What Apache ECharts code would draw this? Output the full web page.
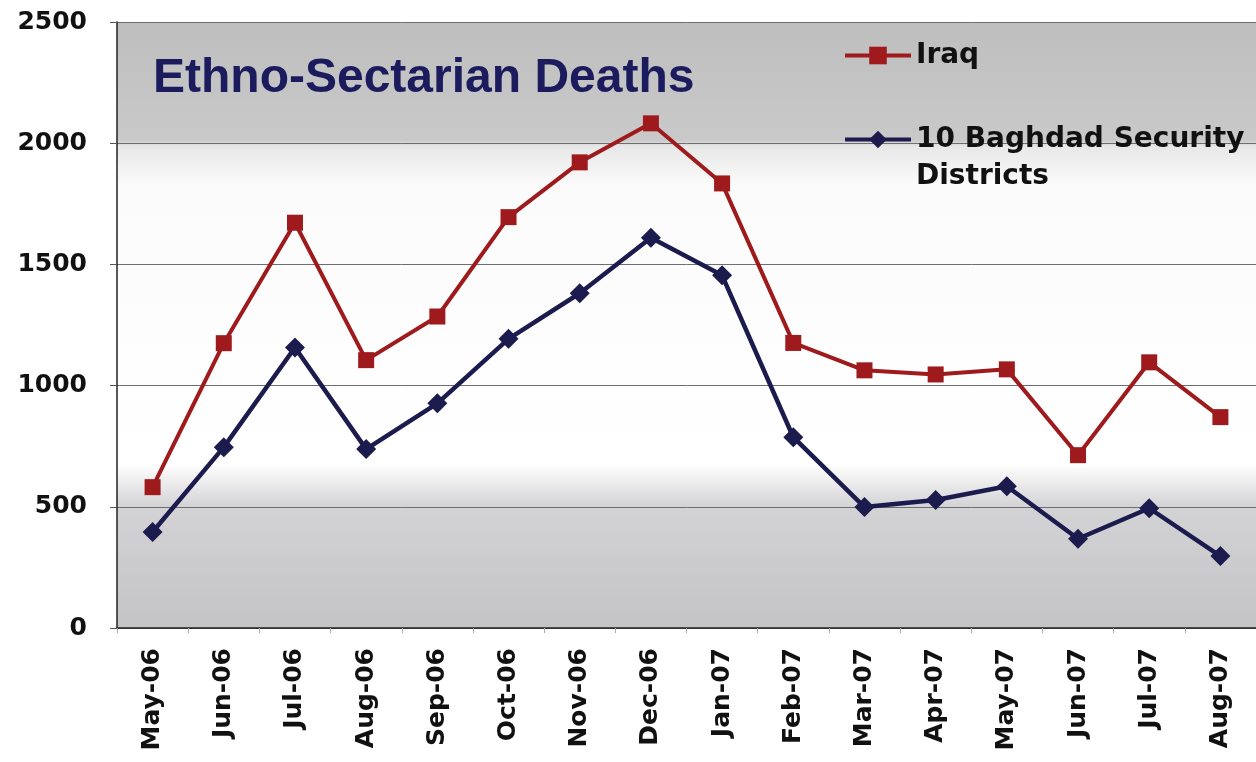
<!DOCTYPE html>
<html>
<head>
<meta charset="utf-8">
<script src="https://cdn.jsdelivr.net/npm/echarts@6/dist/echarts.min.js"></script>
<style>
html,body{margin:0;padding:0;background:#fff;}
#c{width:1256px;height:762px;}
</style>
</head>
<body>
<div id="c"></div>
<script>
const months = ['May-06','Jun-06','Jul-06','Aug-06','Sep-06','Oct-06','Nov-06','Dec-06','Jan-07','Feb-07','Mar-07','Apr-07','May-07','Jun-07','Jul-07','Aug-07'];
const iraq = [581,1175,1672,1105,1285,1695,1921,2082,1834,1176,1063,1046,1067,713,1096,870];
const baghdad = [396,746,1157,738,927,1193,1381,1610,1455,787,499,528,585,368,494,297];
const yTicks = [0,500,1000,1500,2000,2500];
const titleText = 'Ethno-Sectarian Deaths';
const seriesNames = ['Iraq','10 Baghdad Security\nDistricts'];

const chart = echarts.init(document.getElementById('c'));
chart.setOption({
  animation:false,
  backgroundColor:'#ffffff',
  title:{
    text:titleText,
    left:148, top:50,
    textStyle:{fontFamily:'Liberation Sans',fontWeight:'bold',fontSize:48,color:'#1b1b5e'}
  },
  legend:{
    orient:'vertical',
    left:843, top:37,
    padding:0,
    itemWidth:66, itemHeight:22,
    itemGap:10,
    itemTextGap:4,
    data:seriesNames,
    lineStyle:{width:4},
    formatter:function(n){return n.indexOf('\n')>=0 ? '\n'+n : n;},
    textStyle:{fontFamily:'DejaVu Sans',fontWeight:'bold',fontSize:28,color:'#111',lineHeight:37}
  },
  grid:{
    left:117, top:22, width:1144, bottom:134,
    show:true, borderWidth:0,
    backgroundColor:new echarts.graphic.LinearGradient(0,0,0,1,[
      {offset:0,color:'#bebebf'},
      {offset:0.195,color:'#c9c9ca'},
      {offset:0.205,color:'#e7e7e8'},
      {offset:0.27,color:'#fbfbfb'},
      {offset:0.73,color:'#ffffff'},
      {offset:0.8,color:'#d3d3d6'},
      {offset:1,color:'#c4c4c7'}
    ])
  },
  xAxis:{
    type:'category',
    data:months,
    boundaryGap:true,
    axisLine:{lineStyle:{color:'#222',width:1.5}},
    axisTick:{show:true,length:5,lineStyle:{color:'#aaa'}},
    axisLabel:{rotate:90,margin:20,fontFamily:'DejaVu Sans',fontWeight:'bold',fontSize:25,color:'#111'}
  },
  yAxis:{
    type:'value',
    min:yTicks[0], max:yTicks[yTicks.length-1], interval:500,
    axisLine:{show:true,lineStyle:{color:'#222',width:1.5}},
    axisTick:{show:true,length:7,lineStyle:{color:'#555'}},
    axisLabel:{margin:30,fontFamily:'DejaVu Sans',fontWeight:'bold',fontSize:25,color:'#111',formatter:function(v){return String(v);}},
    splitLine:{show:true,lineStyle:{color:'#6e6e72',width:1}}
  },
  series:[
    {
      name:seriesNames[0], type:'line', data:iraq,
      symbol:'rect', symbolSize:16,
      lineStyle:{color:'#9e1a1c',width:4},
      itemStyle:{color:'#9e1a1c'}
    },
    {
      name:seriesNames[1], type:'line', data:baghdad,
      symbol:'diamond', symbolSize:20,
      lineStyle:{color:'#1b1b4e',width:4.5},
      itemStyle:{color:'#1b1b4e'}
    }
  ]
});
</script>
</body>
</html>
